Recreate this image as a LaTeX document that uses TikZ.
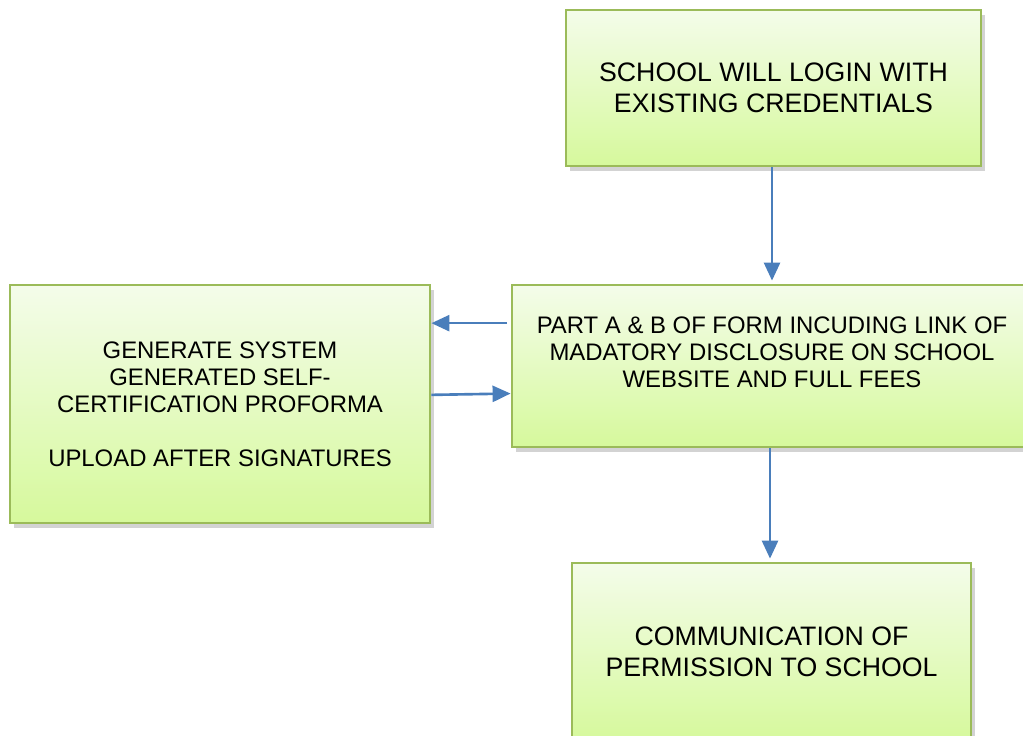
\documentclass[tikz,border=0pt]{standalone}
\usepackage{fontspec}
\setmainfont{Liberation Sans}
\usetikzlibrary{arrows.meta,calc,shadows}

\definecolor{boxline}{RGB}{155,187,89}
\definecolor{boxtop}{RGB}{244,252,234}
\definecolor{boxbottom}{RGB}{214,249,156}
\definecolor{flowblue}{RGB}{74,126,187}

\begin{document}
\begin{tikzpicture}[
  stage/.style={draw=boxline, line width=0.8pt, top color=boxtop, bottom color=boxbottom, drop shadow={shadow xshift=0.04cm, shadow yshift=-0.05cm, opacity=0.35, fill=gray}, align=center, inner sep=0pt},
  bigtext/.style={font=\fontsize{7.6}{8.8}\selectfont},
  smalltext/.style={font=\fontsize{6.8}{7.7}\selectfont},
  flow/.style={draw=flowblue, line width=0.75pt, -{Triangle[length=1.8mm, width=1.6mm]}}
]
  \useasboundingbox (0,0) rectangle (10.23,-7.35);

  \node[stage, bigtext, minimum width=4.15cm, minimum height=1.56cm] (login) at (7.735,-0.88) {SCHOOL WILL LOGIN WITH\\EXISTING CREDENTIALS};
  \node[stage, minimum width=5.22cm, minimum height=1.62cm] (form) at (7.73,-3.66) {};
  \node[smalltext, align=center] (formtext) at (7.72,-3.525) {PART A \& B OF FORM INCUDING LINK OF\\MADATORY DISCLOSURE ON SCHOOL\\WEBSITE AND FULL FEES};
  \node[stage, smalltext, minimum width=4.2cm, minimum height=2.38cm] (gen) at (2.2,-4.04) {GENERATE SYSTEM\\GENERATED SELF-\\CERTIFICATION PROFORMA\\[7.7pt]UPLOAD AFTER SIGNATURES};
  \node[stage, bigtext, minimum width=3.99cm, minimum height=1.78cm] (comm) at (7.715,-6.52) {COMMUNICATION OF\\PERMISSION TO SCHOOL};

  % connectors
  \coordinate (back) at ($(form.north west)!0.24!(form.south west)$);
  \coordinate (fwd) at ($(form.north west)!0.667!(form.south west)$);
  \draw[flow, shorten >=0.03cm] (login.south -| 7.72,0) -- (form.north -| 7.72,0);
  \draw[flow] ([xshift=-0.035cm]back) -- (back -| gen.east);
  \draw[flow] ($(gen.north east)!0.462!(gen.south east)$) -- (fwd);
  \draw[flow, shorten >=0.03cm] (form.south -| 7.70,0) -- (comm.north -| 7.70,0);
\end{tikzpicture}
\end{document}
